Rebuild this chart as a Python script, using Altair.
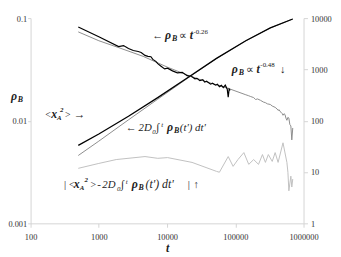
import altair as alt
import pandas as pd

# ---- data ----
t_rho_black = [500, 1000, 1950, 2300, 2720, 3200, 3780, 4170, 4750, 5250, 5800, 6190, 6840, 7310,
               8070, 9210, 10170, 12000, 14150, 16700, 19700, 23200, 25600, 27400, 30200, 33400,
               35600, 38100, 39400, 43400, 46400, 51300, 54700, 58500, 62500, 66700, 71300,
               76200, 78700, 81300, 84100]
rho_black = [0.0820, 0.0658, 0.0528, 0.0540, 0.0505, 0.0483, 0.0473, 0.0463, 0.0433, 0.0424,
             0.0420, 0.0396, 0.0379, 0.0360, 0.0342, 0.0320, 0.0325, 0.0306, 0.0293, 0.0296,
             0.0275, 0.0268, 0.0256, 0.0259, 0.0246, 0.0251, 0.0238, 0.0243, 0.0238, 0.0227,
             0.0232, 0.0222, 0.0227, 0.0215, 0.0221, 0.0210, 0.0222, 0.0203, 0.0170, 0.0204,
             0.0198]

t_rho_gray = [500, 1000, 1950, 4460, 10170, 19700, 38100, 81300, 142600, 157400, 168300, 185800,
              198200, 211800, 233900, 258200, 276100, 295100, 325800, 347600, 383700, 410200,
              423700, 438500, 452900, 467700, 484200, 500000, 516400, 534600, 552100, 570200,
              590200, 609500, 629500, 651600, 673000, 695000]
rho_gray = [0.0734, 0.0602, 0.0516, 0.0424, 0.0332, 0.0279, 0.0239, 0.0205, 0.0179, 0.0175,
            0.0172, 0.0168, 0.0161, 0.0163, 0.0158, 0.0152, 0.0150, 0.0146, 0.0144, 0.0139,
            0.0135, 0.0130, 0.0126, 0.0128, 0.0123, 0.0121, 0.0118, 0.0113, 0.0117, 0.0115,
            0.0106, 0.0101, 0.0108, 0.0106, 0.0092, 0.0089, 0.0065, 0.0085]

t_x2 = [500, 1000, 2720, 7300, 19700, 53000, 142600, 325800, 695000]
x2_black = [33, 55, 122, 282, 680, 1640, 3630, 6440, 9600]
int_gray = [21, 40, 104, 263, 663, 1630, 3620, 6430, 9580]

t_diff = [500, 1000, 1800, 4750, 7300, 10170, 23200, 53000, 58500, 78700, 92900, 109400, 133400,
          157400, 185800, 218800, 250000, 276100, 304800, 347600, 383700, 423700, 500000,
          570200, 590200, 609500, 651600, 673000, 695000]
diff = [11.8, 14.7, 17.5, 20.0, 18.5, 19.1, 15.4, 10.3, 9.9, 20.0, 12.9, 17.5, 23.9, 14.1, 17.5,
        14.1, 21.9, 15.4, 21.9, 16.1, 23.9, 15.4, 37.1, 15.4, 9.9, 4.3, 8.3, 5.1, 7.3]

x_ticks = [100, 1000, 10000, 100000, 1000000]
left_ticks = [0.001, 0.01, 0.1]
right_ticks = [1, 10, 100, 1000, 10000]

FONT = "Liberation Serif, Times New Roman, serif"
OX, OY = 31, 16  # plot origin within the page (for annotation placement)

x_enc = alt.X("t:Q", scale=alt.Scale(type="log", domain=[100, 1000000]),
              axis=alt.Axis(values=x_ticks, format="d", title="t", labelPadding=5,
                            titleFont=FONT, titleFontSize=12, titleFontStyle="italic",
                            titleFontWeight="bold", titleColor="#222", titlePadding=2))

def left_y():
    return alt.Y("v:Q", scale=alt.Scale(type="log", domain=[0.001, 0.1]),
                 axis=alt.Axis(orient="left", values=left_ticks, format="~g", title=None,
                               tickSize=3, labelPadding=1))

def right_y():
    return alt.Y("v:Q", scale=alt.Scale(type="log", domain=[1, 10000]),
                 axis=alt.Axis(orient="right", values=right_ticks, format="d", title=None,
                               labelPadding=3))

def line(ts, vs, color, width, yfun):
    df = pd.DataFrame({"t": ts, "v": vs})
    return alt.Chart(df).mark_line(color=color, strokeWidth=width).encode(x=x_enc, y=yfun())

left = alt.layer(
    line(t_rho_gray, rho_gray, "#8c8c8c", 1.0, left_y),
    line(t_rho_black, rho_black, "#000000", 1.2, left_y),
)
right = alt.layer(
    line(t_diff, diff, "#c0c0c0", 1.0, right_y),
    line(t_x2, int_gray, "#8c8c8c", 1.0, right_y),
    line(t_x2, x2_black, "#000000", 1.3, right_y),
)

one = pd.DataFrame({"a": [0]})

def txt(s, x, y, size=11, style="normal", weight="normal"):
    return alt.Chart(one).mark_text(
        text=s, align="left", baseline="alphabetic", font=FONT, fontSize=size,
        fontStyle=style, fontWeight=weight, color="#222"
    ).encode(x=alt.value(x - OX), y=alt.value(y - OY))

BI = dict(style="italic", weight="bold")
IT = dict(style="italic")

texts = [
    # <- rho_B ∝ t^-0.26
    txt("←", 155, 37), txt("ρ", 168, 37, 12, **BI), txt("B", 175, 39, 8, **BI),
    txt("∝", 182, 37), txt("t", 193, 37, 12, **BI), txt("-0.26", 197, 32, 7),
    # rho_B ∝ t^-0.48 ↓
    txt("ρ", 236, 72, 12, **BI), txt("B", 243, 74, 8, **BI), txt("∝", 250, 72),
    txt("t", 261, 72, 12, **BI), txt("-0.48", 265, 66, 7), txt("↓", 285, 72),
    # y axis title rho_B
    txt("ρ", 11, 99, 12, **BI), txt("B", 18, 101, 8, **BI),
    # < x_A^2 > ->
    txt("<", 46, 118, 10), txt("x", 52, 118, 12, **BI), txt("A", 58, 120, 7, **BI),
    txt("2", 61, 112, 7, **BI), txt(">", 66, 118, 10), txt("→", 75, 118, 12),
    # <- 2D 0∫t rho_B(t') dt'
    txt("←", 128, 131), txt("2D", 141, 131, 11, **IT), txt("0", 155, 134, 7, **IT),
    txt("∫", 159, 131), txt("t", 164, 127, 7, **IT), txt("ρ", 170, 131, 12, **BI),
    txt("B", 177, 133, 8, **BI), txt("(t') dt'", 183, 131, 11, **IT),
    # | <x_A^2> - 2D 0∫t rho_B(t') dt' | ↑
    txt("|", 65, 189), txt("<", 70, 189, 10), txt("x", 75, 189, 12, **BI),
    txt("A", 81, 191, 7, **BI), txt("2", 86, 183, 7, **BI), txt(">", 92, 189, 10),
    txt("-", 99, 189), txt("2D", 104, 189, 11, **IT), txt("0", 119, 192, 7, **IT),
    txt("∫", 123, 189), txt("t", 128, 185, 7, **IT), txt("ρ", 134, 189, 12, **BI),
    txt("B", 141, 191, 8, **BI), txt("(t') dt'", 148, 189, 12, **IT),
    txt("|", 191, 189), txt("↑", 197, 189),
]

chart = alt.layer(left, right, *texts).resolve_scale(y="independent").properties(
    width=278, height=209,
    padding={"left": 23, "top": 8, "right": 30, "bottom": 32},
    autosize=alt.AutoSizeParams(type="none"),
).configure_axis(
    labelFont=FONT, labelFontSize=8.5, labelColor="#333333", domainColor="#d4d4d4",
    tickColor="#d4d4d4", tickSize=4, grid=False, labelFlush=False, labelOverlap=False,
).configure_view(stroke=None)

chart.save("out.html", embed_options={"renderer": "svg", "actions": False})
